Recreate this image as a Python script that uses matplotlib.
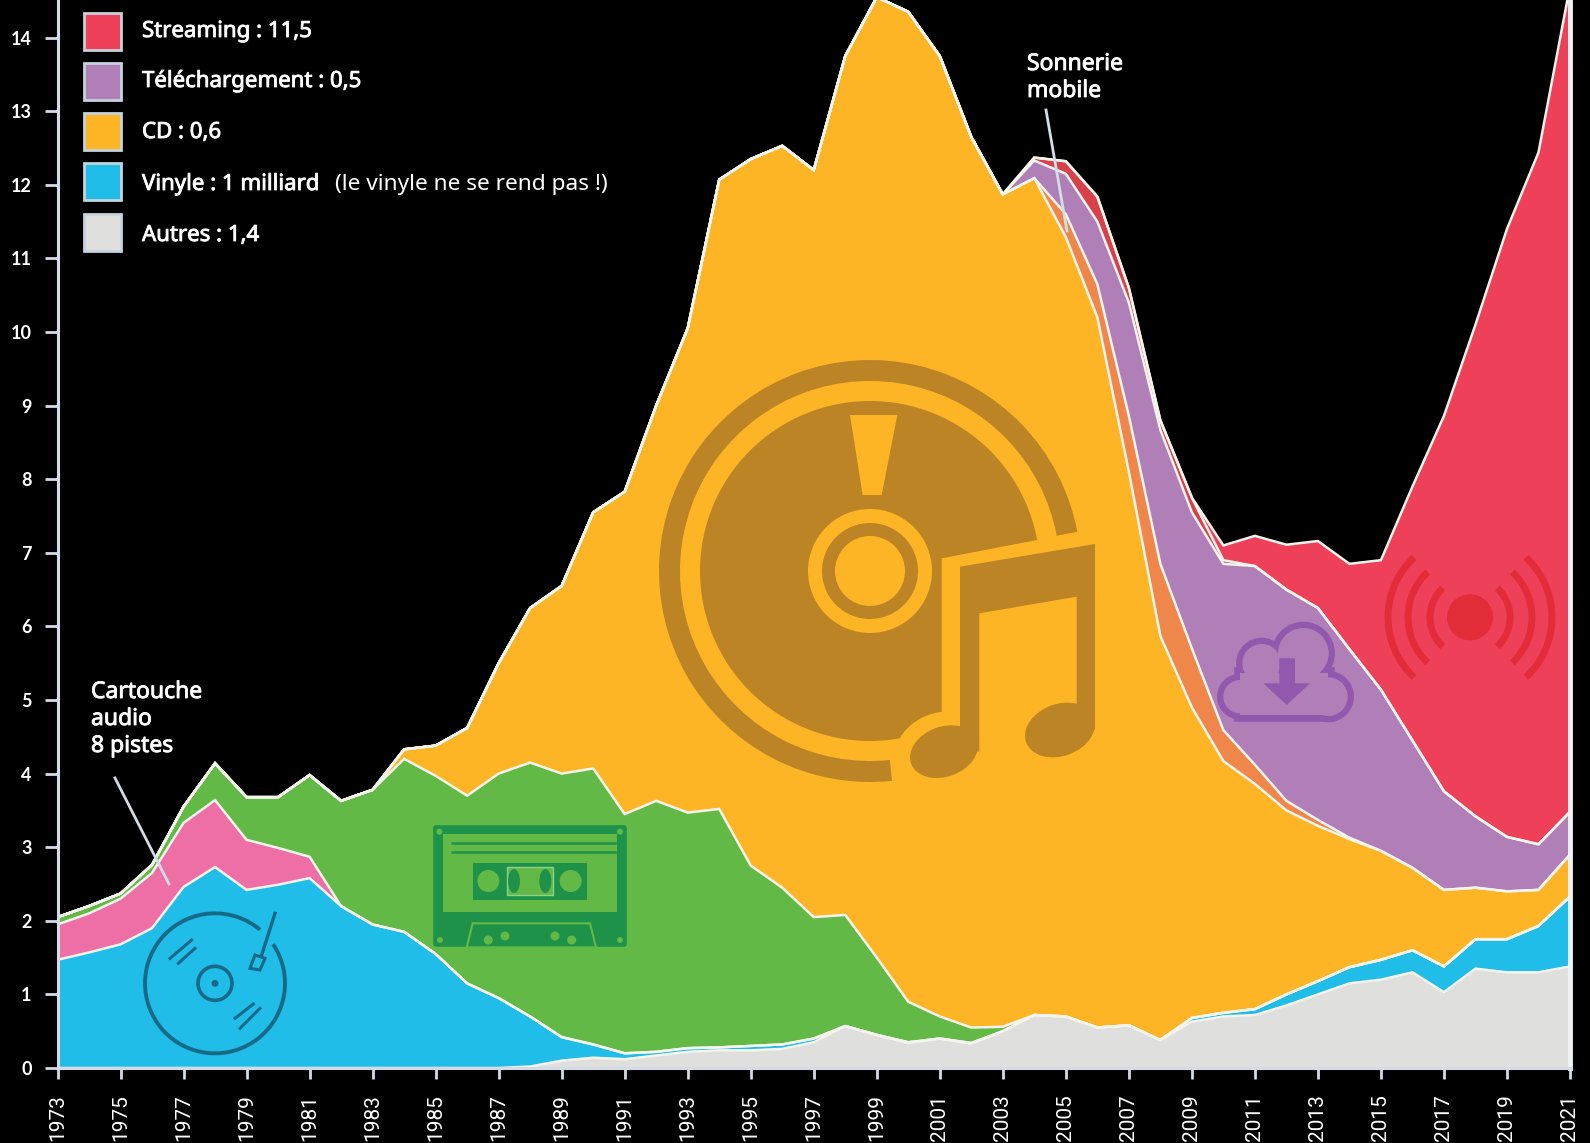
import numpy as np
import matplotlib
matplotlib.use("Agg")
import matplotlib.pyplot as plt
import matplotlib.patheffects as pe
from matplotlib.patches import Rectangle, Circle, Wedge, Arc, Polygon, Ellipse

W, H = 1590, 1143

years = list(range(1973, 2022))

# cumulative tops of each layer (milliards de dollars)
autres_top = [0, 0, 0, 0, 0, 0, 0, 0, 0, 0, 0, 0, 0, 0, 0, 0.02, 0.1, 0.14, 0.12, 0.17, 0.22, 0.24, 0.24, 0.26, 0.35,
              0.57, 0.45, 0.34, 0.40, 0.33, 0.5, 0.72, 0.70, 0.55, 0.58, 0.38, 0.63, 0.70, 0.72, 0.85, 1.0, 1.15,
              1.2, 1.3, 1.03, 1.35, 1.3, 1.3, 1.38]
vinyle_top = [1.47, 1.57, 1.68, 1.9, 2.46, 2.73, 2.42, 2.49, 2.58, 2.2, 1.95, 1.85, 1.55, 1.15, 0.95, 0.7, 0.42, 0.32,
              0.2, 0.22, 0.27, 0.28, 0.3, 0.32, 0.4, 0.57, 0.45, 0.35, 0.40, 0.34, 0.5, 0.72, 0.70, 0.55, 0.58, 0.38,
              0.68, 0.75, 0.80, 1.0, 1.18, 1.37, 1.47, 1.6, 1.38, 1.75, 1.75, 1.93, 2.33]
cartouche_top = [1.95, 2.1, 2.3, 2.65, 3.33, 3.64, 3.10, 2.99, 2.87, 2.2, 1.95, 1.85, 1.55, 1.15, 0.95, 0.7, 0.42, 0.32,
                 0.2, 0.22, 0.27, 0.28, 0.3, 0.32, 0.4, 0.57, 0.45, 0.35, 0.40, 0.34, 0.5, 0.72, 0.70, 0.55, 0.58, 0.38,
                 0.68, 0.75, 0.80, 1.0, 1.18, 1.37, 1.47, 1.6, 1.38, 1.75, 1.75, 1.93, 2.33]
cassette_top = [2.05, 2.2, 2.37, 2.76, 3.55, 4.14, 3.68, 3.68, 3.98, 3.63, 3.78, 4.2, 3.97, 3.7, 4.0, 4.15, 4.0, 4.07,
                3.45, 3.63, 3.47, 3.52, 2.75, 2.45, 2.05, 2.08, 1.5, 0.9, 0.7, 0.55, 0.56, 0.72, 0.70, 0.55, 0.58, 0.38,
                0.68, 0.75, 0.80, 1.0, 1.18, 1.37, 1.47, 1.6, 1.38, 1.75, 1.75, 1.93, 2.33]
cd_top = [2.05, 2.2, 2.37, 2.76, 3.55, 4.14, 3.68, 3.68, 3.98, 3.63, 3.78, 4.33, 4.38, 4.62, 5.5, 6.25, 6.55, 7.55,
          7.83, 9.0, 10.05, 12.07, 12.35, 12.53, 12.2, 13.75, 14.55, 14.35, 13.75, 12.65, 11.87, 12.09, 11.29, 10.2,
          8.1, 5.87, 4.9, 4.17, 3.86, 3.50, 3.29, 3.11, 2.95, 2.72, 2.42, 2.45, 2.40, 2.42, 2.9]
single_top = [2.05, 2.2, 2.37, 2.76, 3.55, 4.14, 3.68, 3.68, 3.98, 3.63, 3.78, 4.33, 4.38, 4.62, 5.5, 6.25, 6.55, 7.55,
              7.83, 9.0, 10.05, 12.07, 12.35, 12.53, 12.2, 13.75, 14.55, 14.35, 13.75, 12.65, 11.87, 12.09, 11.6, 10.65,
              8.86, 6.85, 5.70, 4.59, 4.12, 3.63, 3.37, 3.13, 2.95, 2.72, 2.42, 2.45, 2.40, 2.42, 2.9]
telechargement_top = [2.05, 2.2, 2.37, 2.76, 3.55, 4.14, 3.68, 3.68, 3.98, 3.63, 3.78, 4.33, 4.38, 4.62, 5.5, 6.25,
                      6.55, 7.55, 7.83, 9.0, 10.05, 12.07, 12.35, 12.53, 12.2, 13.75, 14.55, 14.35, 13.75, 12.65,
                      11.87, 12.33, 12.15, 11.5, 10.4, 8.67, 7.55, 6.85, 6.82, 6.5, 6.25, 5.69, 5.14, 4.45, 3.76,
                      3.42, 3.14, 3.04, 3.48]
sonnerie_top = [2.05, 2.2, 2.37, 2.76, 3.55, 4.14, 3.68, 3.68, 3.98, 3.63, 3.78, 4.33, 4.38, 4.62, 5.5, 6.25,
                6.55, 7.55, 7.83, 9.0, 10.05, 12.07, 12.35, 12.53, 12.2, 13.75, 14.55, 14.35, 13.75, 12.65,
                11.87, 12.37, 12.32, 11.84, 10.6, 8.8, 7.75, 6.9, 6.82, 6.5, 6.25, 5.69, 5.14, 4.45, 3.76,
                3.42, 3.14, 3.04, 3.48]
streaming_top = [2.05, 2.2, 2.37, 2.76, 3.55, 4.14, 3.68, 3.68, 3.98, 3.63, 3.78, 4.33, 4.38, 4.62, 5.5, 6.25,
                 6.55, 7.55, 7.83, 9.0, 10.05, 12.07, 12.35, 12.53, 12.2, 13.75, 14.55, 14.35, 13.75, 12.65,
                 11.87, 12.37, 12.32, 11.84, 10.6, 8.8, 7.75, 7.1, 7.23, 7.11, 7.16, 6.85, 6.9, 7.9, 8.86,
                 10.1, 11.4, 12.44, 14.7]

y_ticks = list(range(0, 15))
x_ticks = list(range(1973, 2022, 2))
legend_labels = ["Streaming : 11,5", "Téléchargement : 0,5", "CD : 0,6", "Vinyle : 1 milliard", "Autres : 1,4"]
legend_note = "(le vinyle ne se rend pas !)"

GRIS = "#dfdfdd"
BLEU = "#1fbde8"
ROSE = "#ee6ea6"
VERT = "#62b946"
JAUNE = "#fdb525"
ORANGE = "#f0874a"
VIOLET = "#b07fb8"
ROUGE_F = "#d8404a"
ROUGE = "#ee4059"
LIGNE = "#f5f5ee"
AXE = "#d3dbe8"
FONT = "Noto Sans"
# Noto Sans only comes in regular here, a thin stroke gives the medium weight
GRAS = [pe.withStroke(linewidth=0.6, foreground="white")]

plt.rcParams["font.family"] = [FONT, "DejaVu Sans"]
fig = plt.figure(figsize=(W / 100, H / 100), dpi=100, facecolor="black")
ax = fig.add_axes([57.5 / W, 1 - 1068 / H, (1570 - 57.5) / W, 1068 / H], facecolor="black")

tops = [autres_top, vinyle_top, cartouche_top, cassette_top, cd_top, single_top,
        telechargement_top, sonnerie_top, streaming_top]
colors = [GRIS, BLEU, ROSE, VERT, JAUNE, ORANGE, VIOLET, ROUGE_F, ROUGE]
below = np.zeros(len(years))
for top, c in zip(tops, colors):
    ax.fill_between(years, below, top, color=c, lw=0, zorder=2)
    below = np.array(top)
for top in tops:
    ax.plot(years, top, color=LIGNE, lw=1.8, zorder=3, solid_joinstyle="miter")

ax.set_xlim(1973, 2021)
ax.set_ylim(0, 1068 / 73.6)
ax.set_xticks(x_ticks)
ax.set_xticklabels(x_ticks, rotation=90, fontsize=15, color="white", family="Roboto")
ax.set_yticks(y_ticks)
ax.set_yticklabels(y_ticks, fontsize=13, color="white", family="Lato", fontweight="bold")
ax.tick_params(axis="x", length=8, width=2, color=AXE, pad=11)
ax.tick_params(axis="y", length=9.5, width=2, color=AXE, pad=9)
for side in ["left", "bottom", "right"]:
    ax.spines[side].set_color(AXE)
    ax.spines[side].set_linewidth(2.2)
    ax.spines[side].set_zorder(5)
ax.spines["right"].set_color("#eef2f5")
ax.spines["right"].set_linewidth(3.5)
ax.spines["top"].set_visible(False)

# overlay in pixels for the legend, notes and pictos
ov = fig.add_axes([0, 0, 1, 1], facecolor="none")
ov.set_xlim(0, W)
ov.set_ylim(0, H)
ov.axis("off")


def Y(py):
    return H - py


# legend
legend_colors = [ROUGE, VIOLET, JAUNE, BLEU, GRIS]
legend_rows = [13, 63, 113, 163, 214]
legend_base = [37, 87, 138, 190, 241]
for label, c, row, base in zip(legend_labels, legend_colors, legend_rows, legend_base):
    ov.add_patch(Rectangle((84, Y(row + 37)), 37, 37, facecolor=c, edgecolor="#c5d3dc", lw=2))
    ov.text(142, Y(base), label, color="white", fontsize=16, va="baseline", path_effects=GRAS)
ov.text(335, Y(190), legend_note, color="white", fontsize=16.3, va="baseline")

# notes
for txt, base in [("Cartouche", 698), ("audio", 725), ("8 pistes", 752)]:
    ov.text(91, Y(base), txt, color="white", fontsize=16.5, va="baseline", path_effects=GRAS)
ov.plot([115, 169], [Y(778), Y(884)], color="#d3dbe8", lw=2)
for txt, base in [("Sonnerie", 70), ("mobile", 97)]:
    ov.text(1027, Y(base), txt, color="white", fontsize=16.5, va="baseline", path_effects=GRAS)
ov.plot([1046, 1067], [Y(110), Y(231)], color="#cfe0ea", lw=2)


# CD picto, zoom coordinates of the crop
def cd_xy(zx, zy):
    return 640 + zx / 3, Y(340 + zy / 3)


CD_DARK = "#bd8425"
cx, cy = cd_xy(690, 693)
ov.add_patch(Wedge((cx, cy), 211, 10.7, 276, width=21, color=CD_DARK, lw=0))
ov.add_patch(Circle((cx, cy), 170, color=CD_DARK, lw=0))
ov.add_patch(Polygon([cd_xy(*p) for p in [(905, 655), (1400, 560), (1400, 1200), (905, 1200)]], color=JAUNE, lw=0))
ov.add_patch(Ellipse(cd_xy(905, 1235), 96, 78, angle=20, color=JAUNE, lw=0))
ov.add_patch(Polygon([cd_xy(*p) for p in [(630, 225), (772, 225), (725, 465), (668, 465)]], color=JAUNE, lw=0))
ov.add_patch(Circle((cx, cy), 62, color=JAUNE, lw=0))
ov.add_patch(Circle((cx, cy), 48, color=CD_DARK, lw=0))
ov.add_patch(Circle((cx, cy), 35, color=JAUNE, lw=0))
note = [(960, 680), (1365, 612), (1365, 1170), (1310, 1170), (1310, 770), (1018, 820), (1018, 1235), (960, 1235)]
ov.add_patch(Polygon([cd_xy(*p) for p in note], color=CD_DARK, lw=0))
ov.add_patch(Ellipse(cd_xy(912, 1235), 70, 50, angle=20, color=CD_DARK, lw=0))
ov.add_patch(Ellipse(cd_xy(1260, 1170), 72, 52, angle=20, color=CD_DARK, lw=0))


# cassette
def k7_xy(zx, zy):
    return 420 + zx / 3, Y(810 + zy / 3)


K7 = "#1f9249"
ov.add_patch(Polygon([k7_xy(*p) for p in [(48, 53), (612, 53), (612, 402), (48, 402)]], facecolor=K7, edgecolor=K7,
                     lw=4, joinstyle="round"))
ov.add_patch(Polygon([k7_xy(*p) for p in [(70, 72), (590, 72), (590, 305), (70, 305)]], color=VERT, lw=0))
for zy in [100, 125]:
    ov.plot(*zip(k7_xy(95, zy), k7_xy(585, zy)), color=K7, lw=1.8)
ov.add_patch(Polygon([k7_xy(*p) for p in [(160, 160), (500, 160), (500, 270), (160, 270)]], color=K7, lw=0))
for zx in [205, 452]:
    ov.add_patch(Circle(k7_xy(zx, 213), 11, color=VERT, lw=0))
ov.add_patch(Polygon([k7_xy(*p) for p in [(260, 172), (400, 172), (400, 255), (260, 255)]], facecolor=VERT,
                     edgecolor="#8fd08a", lw=1))
for zx in [282, 376]:
    ov.add_patch(Ellipse(k7_xy(zx, 213), 12, 24, color=K7, lw=0))
ov.add_patch(Polygon([k7_xy(*p) for p in [(140, 412), (158, 340), (510, 340), (528, 412)]], facecolor=K7,
                     edgecolor=VERT, lw=1.5))
for zx, zy in [(58, 65), (600, 65), (60, 390), (600, 390)]:
    ov.add_patch(Circle(k7_xy(zx, zy), 3, color=VERT, lw=0))
for zx, zy in [(205, 390), (255, 378), (405, 378), (455, 390)]:
    ov.add_patch(Circle(k7_xy(zx, zy), 4.5, color=VERT, lw=0))


# platine vinyle
def tt_xy(zx, zy):
    return zx / 3, Y(900 + zy / 3)


TT = "#176a87"
tx, ty = tt_xy(645, 250)
ov.add_patch(Arc((tx, ty), 140, 140, theta1=50, theta2=394, color=TT, lw=2.8))
ov.add_patch(Circle((tx, ty), 17, fill=False, edgecolor=TT, lw=2.6))
ov.add_patch(Circle((tx, ty), 3.5, color=TT, lw=0))
for a, b in [((510, 175), (575, 120)), ((535, 190), (585, 145)), ((705, 355), (760, 312)), ((720, 385), (780, 325))]:
    ov.plot(*zip(tt_xy(*a), tt_xy(*b)), color=TT, lw=2.2)
ov.plot(*zip(tt_xy(825, 40), tt_xy(785, 165)), color=TT, lw=2.4)
ov.add_patch(Polygon([tt_xy(*p) for p in [(765, 165), (795, 175), (780, 210), (750, 205)]], fill=False,
                     edgecolor=TT, lw=2.2))


# nuage et ondes
def z8_xy(zx, zy):
    return 1200 + zx / 3, Y(540 + zy / 3)


CLOUD = "#9258ad"
lobes = [(120, 470, 50), (185, 370, 58), (310, 340, 76), (385, 470, 58)]
body = [(120, 400), (385, 400), (385, 526), (120, 526)]
for fc, ec, lw in [(CLOUD, CLOUD, 9), (VIOLET, VIOLET, 0)]:
    for zx, zy, r in lobes:
        ov.add_patch(Circle(z8_xy(zx, zy), r / 3, facecolor=fc, edgecolor=ec, lw=lw))
    ov.add_patch(Polygon([z8_xy(*p) for p in body], facecolor=fc, edgecolor=ec, lw=lw))
arrow = [(238, 355), (285, 355), (285, 430), (330, 430), (260, 495), (190, 430), (238, 430)]
ov.add_patch(Polygon([z8_xy(*p) for p in arrow], color=CLOUD, lw=0))

ONDE = "#e22c38"
ox, oy = z8_xy(810, 232)
ov.add_patch(Circle((ox, oy), 23, color=ONDE, lw=0))
for r in [40, 62, 82]:
    ov.add_patch(Arc((ox, oy), 2 * r, 2 * r, theta1=-47, theta2=47, color=ONDE, lw=5))
    ov.add_patch(Arc((ox, oy), 2 * r, 2 * r, theta1=133, theta2=227, color=ONDE, lw=5))

fig.savefig("out.png", dpi=100, facecolor="black")
